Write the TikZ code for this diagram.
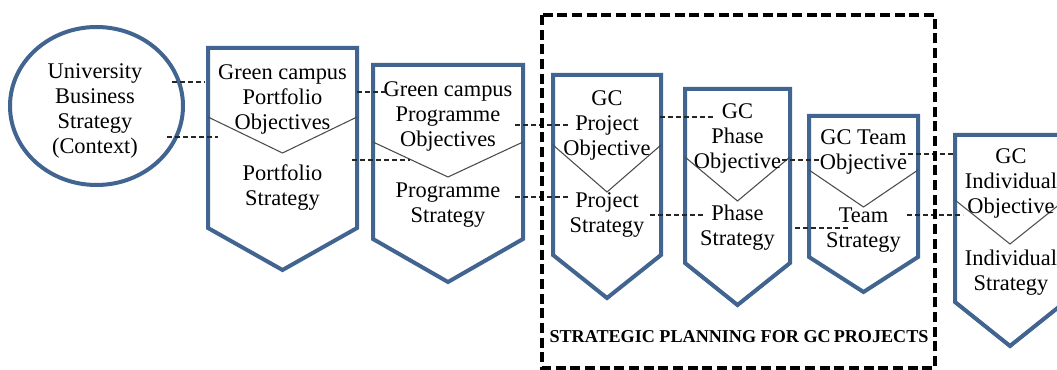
\documentclass[tikz,border=0pt]{standalone}
\usepackage{fontspec}
\setmainfont{Liberation Serif}

\definecolor{gcblue}{RGB}{65,100,145}

\tikzset{
    chev/.style={draw=gcblue, line width=3pt, fill=white, line join=miter},
    vline/.style={draw=black!70, line width=0.8pt},
    txt/.style={align=center, inner sep=0pt, font=\fontsize{16.8}{18.75}\selectfont},
    link/.style={draw=black!85, line width=0.9pt, dash pattern=on 3.5pt off 2.5pt},
    frame/.style={draw=black, line width=2.9pt, dash pattern=on 7.5pt off 3.5pt},
}

\begin{document}
\begin{tikzpicture}[x=0.75pt, y=-0.75pt]

    \clip (0,0) rectangle (1057,370);

    % context
    \draw[chev] (96.5,106) ellipse [x radius=86.5, y radius=79];
    \node[txt] (ctx) at (95,111) {University\\Business\\Strategy\\(Context)};

    % chevrons: left/right/top/side bottom/tip/V side/V tip
    \foreach \xl/\xr/\yt/\ys/\yb/\vs/\vt in {208/357/48/228/270/117/153,
                                            373/523/65/239/282/142/177,
                                            553/661/75/255/298/145/192,
                                            685/790/89/263/305/157/201,
                                            809/918/116/257/292/170/207,
                                            955/1065/135/302/346/200/244} {
        \pgfmathsetmacro{\xm}{(\xl+\xr)/2}
        \draw[chev] (\xl,\yt) -- (\xr,\yt) -- (\xr,\ys) -- (\xm,\yb) -- (\xl,\ys) -- cycle;
        \draw[vline] (\xl,\vs) -- (\xm,\vt) -- (\xr,\vs);
    }

    % objectives and strategies
    \node[txt] (pfobj) at (282.5,99) {Green campus\\Portfolio\\Objectives};
    \node[txt] (pfstr) at (282.5,188) {Portfolio\\Strategy};
    \node[txt] (pgobj) at (448,116) {Green campus\\Programme\\Objectives};
    \node[txt] (pgstr) at (448,205) {Programme\\Strategy};
    \node[txt] (pjobj) at (607,125) {GC\\Project\\Objective};
    \node[txt] (pjstr) at (607,215) {Project\\Strategy};
    \node[txt] (phobj) at (737.5,138) {GC\\Phase\\Objective};
    \node[txt] (phstr) at (737.5,228) {Phase\\Strategy};
    \node[txt] (tmobj) at (863.5,152) {GC Team\\Objective};
    \node[txt] (tmstr) at (863.5,230) {Team\\Strategy};
    \node[txt] (ivobj) at (1011,183) {GC\\Individual\\Objective};
    \node[txt] (ivstr) at (1011,273) {Individual\\Strategy};

    % dashed links
    \foreach \i/\xa/\xb/\yy in {1/172/205/82, 2/167/218/137,
                                3/357/388/92, 4/352/410/160,
                                5/515/570/125, 6/515/568/197,
                                7/660/715/117, 8/650/703/215,
                                9/782/823/160, 10/795/848/228,
                                11/900/953/154, 12/907/963/215} {
        \coordinate (a\i) at (\xa,\yy);
        \coordinate (b\i) at (\xb,\yy);
        \draw[link] (a\i) -- (b\i);
    }

    % planning frame
    \draw[frame] (542,15) rectangle (935,368);
    \node[inner sep=0pt, font=\bfseries\fontsize{13.6}{15}\selectfont] (plan) at (739,337)
        {STRATEGIC PLANNING FOR GC\,PROJECTS};

\end{tikzpicture}
\end{document}
